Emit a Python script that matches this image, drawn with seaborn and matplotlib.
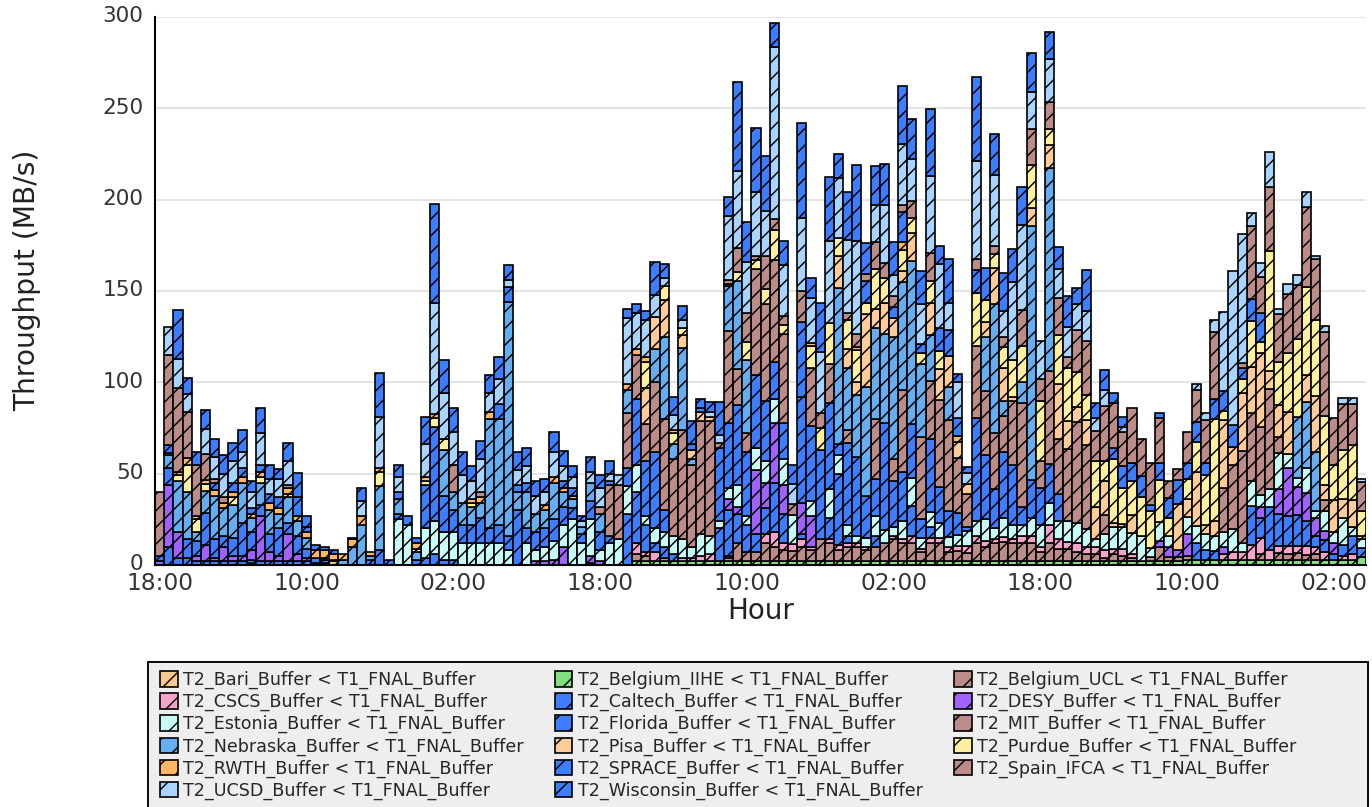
import matplotlib
matplotlib.use("Agg")
import matplotlib.pyplot as plt
from matplotlib.patches import Patch, Rectangle
from matplotlib.ticker import MultipleLocator
from matplotlib.transforms import ScaledTranslation
import seaborn as sns
import pandas as pd

# hourly throughput per link (MB/s), 132 hours
bari = [0, 0, 0, 0, 0, 0, 0, 0, 0, 0, 1, 0,
        0, 0, 0, 0, 0, 0, 0, 2, 0, 0, 0, 0,
        0, 0, 0, 0, 0, 0, 0, 0, 0, 0, 0, 0,
        0, 0, 0, 0, 0, 0, 0, 0, 0, 0, 0, 1,
        0, 0, 0, 0, 0, 0, 0, 0, 0, 0, 0, 0,
        0, 0, 0, 0, 0, 0, 0, 0, 0, 0, 0, 0,
        0, 0, 0, 0, 0, 0, 0, 0, 0, 0, 0, 0,
        0, 0, 0, 0, 0, 0, 0, 0, 0, 0, 0, 0,
        0, 0, 0, 0, 0, 0, 0, 0, 0, 0, 0, 0,
        0, 0, 0, 0, 0, 0, 0, 0, 0, 0, 0, 0,
        0, 0, 0, 0, 0, 0, 0, 0, 0, 0, 0, 0]
belgium_iihe = [0, 0, 0, 0, 0, 0, 0, 0, 0, 0, 0, 0,
                0, 0, 0, 0, 0, 0, 0, 0, 0, 0, 0, 0,
                0, 0, 0, 0, 0, 0, 0, 0, 0, 0, 0, 0,
                0, 0, 0, 0, 0, 0, 0, 0, 0, 0, 0, 0,
                0, 0, 0, 0, 2, 2, 2, 2, 2, 2, 2, 2,
                2, 2, 2, 2, 2, 2, 2, 2, 2, 2, 2, 2,
                2, 2, 2, 2, 2, 2, 2, 2, 2, 2, 2, 2,
                2, 2, 2, 2, 2, 2, 2, 2, 2, 2, 2, 2,
                2, 2, 2, 2, 2, 2, 2, 2, 2, 2, 2, 2,
                2, 2, 2, 2, 3, 3, 3, 3, 3, 3, 3, 3,
                3, 3, 3, 3, 3, 3, 3, 3, 3, 3, 3, 4.3]
belgium_ucl = [0, 0, 0, 0, 0, 0, 0, 0, 0, 0, 0, 0,
               0, 0, 0, 0, 0, 0, 0, 0, 0, 0, 0, 0,
               0, 0, 0, 0, 0, 0, 0, 0, 0, 0, 0, 0,
               0, 0, 0, 0, 0, 0, 0, 0, 0, 0, 0, 0,
               0, 0, 0, 0, 4, 3, 0, 2, 0, 0, 0, 0,
               0, 0, 2, 10, 5, 5, 10, 8, 6, 5.5, 8, 6,
               12, 10, 6, 8, 8, 6, 8, 10, 12, 10, 10, 5,
               10, 10, 5, 5.6, 4.6, 10, 8, 10, 10.6, 10, 10, 10,
               5, 10, 7, 6.6, 5, 4, 4, 2, 4, 3, 2, 0,
               2.2, 8, 2.2, 2.2, 2, 0, 0, 0, 0, 0, 0, 0,
               3, 0, 3.3, 3.2, 3.5, 2.4, 3, 0, 0, 0, 0, 0]
cscs = [0, 0, 0, 0, 0, 0, 0, 0, 0, 0, 0, 0,
        0, 0, 0, 0, 0, 0, 0, 0, 0, 0, 0, 0,
        0, 0, 0, 0, 0, 0, 0, 0, 0, 0, 0, 0,
        0, 0, 0, 0, 0, 0, 0, 0, 0, 0, 0, 0,
        0, 0, 0, 0, 6, 2, 5, 0, 0, 2, 2, 3,
        4, 0, 1, 0, 0, 0, 5, 8, 4, 4, 4, 2,
        0, 2, 3, 2, 2, 2, 0, 0, 2, 2, 4, 2,
        3, 3, 2.6, 3, 4, 4, 3, 2, 3, 2, 4, 4,
        3, 10, 5, 4, 5, 4, 4, 4, 3, 4, 2, 0,
        0, 0, 0, 0, 0, 0, 0, 0, 3, 4, 4, 7.8,
        8.8, 5, 4, 4, 4, 4.9, 4, 4, 0, 2, 3, 0]
caltech = [0, 10, 4, 4, 2, 2, 2, 2, 2, 2, 2, 2,
           2, 2, 2, 2, 2, 1, 1, 0, 0, 0, 0, 0,
           0, 0, 0, 0, 3, 4, 6, 3, 3, 0, 0, 0,
           0, 0, 0, 0, 0, 0, 0, 0, 0, 0, 0, 0,
           0, 0, 0, 28, 28, 15, 5, 6, 4, 0, 0, 0,
           0, 18, 25, 16, 15, 10, 14, 27, 16, 0, 3, 0,
           0, 12, 39, 4, 0, 0, 6, 0, 0, 0, 16.4, 0,
           6, 0, 0, 0, 0, 0, 0, 0, 0, 0, 0, 0,
           0, 0, 0, 0, 0, 0, 0, 0, 0, 0, 0, 0,
           0, 0, 0, 0, 0, 8.8, 5, 4.9, 0, 0, 0, 21.5,
           10.8, 23.5, 17.6, 16.6, 16.6, 13.7, 5.9, 6.8, 3, 5.9, 9.8, 4.9]
desy = [2, 34, 14, 0, 3, 9, 2, 8, 3, 3, 5, 25,
        5, 3, 15, 4, 2, 0, 0, 0, 0, 0, 0, 0,
        0, 0, 0, 0, 0, 0, 0, 0, 0, 0, 0, 0,
        0, 0, 0, 0, 0, 2, 2, 3, 10, 0, 0, 4,
        2, 0, 0, 0, 0, 0, 0, 0, 0, 0, 0, 0,
        0, 0, 6, 4, 0, 35, 14, 33, 16, 0, 17, 17,
        0, 0, 0, 0, 0, 0, 0, 0, 0, 0, 0, 0,
        0, 0, 0, 0, 0, 0, 0, 0, 0, 0, 0, 0,
        0, 0, 0, 0, 0, 0, 0, 0, 0, 0, 0, 0,
        0, 3, 5.9, 4, 11.7, 0, 0, 0, 4, 0, 0, 0,
        5.9, 0, 13.7, 26.4, 15.6, 15.6, 9.8, 4.9, 5.9, 0, 0, 0]
estonia = [0, 0, 0, 0, 0, 0, 0, 0, 0, 0, 0, 0,
           0, 0, 0, 0, 0, 0, 0, 0, 0, 0, 0, 0,
           0, 0, 25, 22, 0, 16, 18, 15, 15, 12, 12, 12,
           12, 12, 8, 0, 12, 6, 8, 10, 12, 25, 12, 20,
           6, 12, 14, 15, 15, 5, 8, 8, 10, 10, 6, 12,
           10, 4, 6, 12, 5, 12, 12, 13, 14, 16, 0, 8,
           0, 15.6, 10, 6, 4, 5, 11, 7, 5, 10, 15, 6,
           8, 8, 6, 6, 8, 8, 12, 6, 10, 8, 6, 9.8,
           12, 11.7, 10, 11.7, 10.8, 9.8, 4, 8.8, 11.7, 11.7, 11.7, 13.7,
           5, 10.8, 5.9, 0, 9.8, 9.8, 8.8, 7.8, 7.8, 12.7, 4.8, 13.7,
           6.8, 10, 19.6, 7.8, 4.9, 13.7, 4, 10.8, 5.9, 14.7, 4.9, 4.9]
florida = [3, 9, 0, 10, 8, 17.6, 10, 6, 10, 18, 10, 6,
           10, 15, 6, 10, 5, 3, 2, 1, 0, 0, 0, 3,
           8, 3, 3, 0, 0, 24, 51.5, 20, 12, 10, 10, 14,
           8, 10, 8, 30, 8, 10, 10, 12, 10, 6, 5, 10,
           10, 4, 0, 10, 36, 30, 42, 12, 0, 0, 0, 0,
           0, 40, 36, 43.5, 35, 40, 33, 20, 20, 0, 58, 41,
           49, 47, 6.4, 45, 43, 22.5, 20, 58.7, 25, 27, 30, 10,
           40, 19.6, 14, 12, 2, 56.7, 35, 21.5, 36, 33, 9.8, 21,
           20, 21.5, 15, 0, 0, 0, 0, 0, 0, 0, 0, 0,
           0, 0, 0, 0, 0, 0, 0, 0, 0, 0, 0, 0,
           0, 0, 0, 0, 0, 0, 0, 0, 0, 0, 0, 0]
mit = [0, 0, 0, 0, 0, 0, 0, 0, 0, 0, 0, 0,
       0, 0, 0, 0, 0, 0, 0, 0, 0, 0, 0, 0,
       0, 0, 0, 0, 0, 0, 0, 0, 0, 0, 0, 0,
       0, 0, 0, 0, 0, 0, 0, 0, 0, 0, 0, 0,
       0, 28, 30, 30, 24, 20, 38, 50, 42, 60, 45, 62,
       63, 3, 50, 20, 10, 58, 53, 55.7, 48.4, 6, 0, 32,
       0, 21.5, 0, 7, 0, 0, 33, 0, 12, 45, 0, 45,
       32, 48, 50, 30, 18, 39, 35, 31, 20, 35, 56.7, 0,
       15, 51, 30, 39, 55.7, 46, 0, 10.8, 0, 0, 0, 0,
       0, 0, 0, 0, 0, 0, 0, 0, 24.4, 35, 50.8, 37,
       37, 54.8, 8.8, 0, 0, 0, 0, 6.2, 0, 0, 0, 0]
nebraska = [0, 7, 28, 26, 5, 12, 24, 15, 18, 22, 8, 12,
            13, 8, 14, 8, 6, 0, 1, 0, 3, 10, 22, 2,
            35, 0, 8, 0, 4, 0, 0, 25, 10, 12, 10, 8,
            60, 58, 128, 10, 20, 10, 10, 20, 8, 5, 4, 10,
            10, 0, 0, 13, 0, 0, 18, 45, 8, 45, 3, 0,
            0, 0, 25, 48, 40, 0, 0, 0, 0, 0, 0, 0,
            0, 0, 85, 34, 34, 60, 50, 49, 67, 58.7, 89, 40,
            25, 0, 18, 0, 0, 0, 30, 70.4, 8, 0, 11.7, 139,
            0, 111, 0, 0, 0, 0, 0, 0, 0, 0, 0, 0,
            0, 0, 0, 0, 0, 0, 0, 0, 0, 0, 0, 0,
            0, 0, 0, 0, 33.2, 36.2, 32.3, 0, 0, 0, 0, 0]
pisa = [0, 0, 0, 0, 0, 0, 0, 0, 0, 0, 0, 0,
        0, 0, 0, 0, 0, 0, 0, 0, 0, 0, 0, 0,
        0, 0, 0, 0, 0, 0, 0, 0, 0, 0, 0, 0,
        0, 0, 0, 0, 0, 0, 0, 0, 0, 0, 0, 0,
        0, 0, 0, 0, 0, 20, 18, 20, 0, 7, 5, 5,
        2, 0, 0, 0, 0, 0, 0, 0, 0, 0, 0, 0,
        0, 0, 17.6, 10, 7, 40, 10, 16.6, 10, 6, 15.6, 0,
        17.6, 16.6, 17, 9, 6, 0, 8, 19.6, 18, 2, 0, 9.8,
        0, 12.7, 30, 15.6, 7.8, 13.7, 17.6, 18.6, 2.4, 2, 9.8, 0,
        0, 0, 0, 25.4, 9.8, 29.3, 5, 8.5, 37, 10, 31.3, 25.4,
        41, 10, 17.6, 22.5, 0, 14.7, 30.3, 8, 17.6, 10.8, 14.7, 2]
purdue = [0, 0, 3, 15, 7, 4, 0, 0, 4, 0, 0, 3,
          0, 0, 2, 0, 0, 0, 0, 0, 0, 0, 0, 0,
          8, 0, 0, 0, 2, 2, 5, 6, 0, 0, 2, 0,
          0, 0, 0, 0, 0, 0, 0, 0, 0, 0, 0, 0,
          0, 0, 0, 0, 0, 14, 0, 8, 6, 4, 0, 0,
          0, 0, 0, 5, 10, 5, 8, 16.5, 5, 0, 0, 12,
          12, 22.5, 10, 16, 17.6, 6, 22, 14, 0, 12, 8, 6,
          11.7, 10, 0, 0, 0, 29, 12, 8, 12, 20, 19.6, 23.5,
          33, 8.8, 27, 29, 19.6, 13.7, 25.4, 11, 35, 19.6, 18.6, 21.5,
          20.5, 22.5, 9.8, 0, 10.8, 16.6, 27.4, 55.7, 5, 0, 7.8, 25.4,
          5.9, 65.5, 23.5, 32.3, 43, 48, 42, 38, 19.6, 26.4, 30.3, 13.7]
rwth = [0, 1.5, 2, 3.5, 2, 2, 3, 3, 3, 3, 2, 3,
        4, 3, 3, 3, 3, 4, 4, 3, 3, 4, 5, 2,
        2, 0, 0, 0, 3, 2, 2, 0, 0, 0, 2, 3,
        4, 0, 0, 0, 0, 0, 3, 3, 2, 2, 0, 0,
        0, 0, 0, 3, 3, 3, 0, 0, 2, 0, 0, 0,
        0, 0, 1, 0, 0, 0, 0, 0, 0, 0, 0, 1.5,
        0, 0, 0, 0, 2, 0, 0, 0, 0, 4, 0, 0,
        0, 0, 0, 3, 0, 0, 0, 0, 0, 0, 0, 0,
        0, 0, 0, 0, 0, 0, 0, 0, 0, 0, 0, 0,
        0, 0, 0, 0, 0, 0, 0, 0, 0, 0, 0, 0,
        0, 0, 0, 0, 0, 0, 0, 0, 0, 0, 0, 0]
sprace = [0, 4, 0, 0, 0, 0, 4, 0, 5, 5, 3, 4,
          5, 6, 0, 10, 3, 3, 0, 0, 0, 0, 0, 0,
          0, 0, 4, 0, 0, 0, 0, 0, 0, 0, 0, 0,
          0, 8, 8, 4, 5, 0, 0, 0, 4, 4, 0, 0,
          0, 2, 0, 0, 0, 0, 0, 0, 0, 0, 3, 2,
          0, 0, 0, 0, 0, 0, 0, 0, 0, 0, 41, 0,
          0, 0, 0, 0, 0, 12, 0, 0, 6, 16.6, 0, 5,
          0, 12.7, 14, 10, 0, 12.7, 0, 0, 0, 0, 0, 0,
          0, 0, 0, 0, 0, 0, 0, 0, 6, 11.7, 9.8, 11.7,
          3, 9.8, 10.8, 12.7, 8.8, 10.8, 6.8, 10.8, 10.8, 11.7, 5.9, 11.7,
          15.6, 0, 0, 0, 0, 0, 0, 0, 0, 0, 0, 0]
spain_ifca = [35, 49.5, 46, 25, 28, 14, 2, 3, 0, 0, 0, 0,
              0, 0, 2, 0, 0, 0, 0, 0, 0, 0, 0, 0,
              0, 0, 0, 0, 0, 0, 0, 0, 15, 0, 0, 3,
              0, 0, 0, 0, 0, 0, 0, 0, 0, 0, 0, 0,
              4, 0, 0, 0, 0, 0, 0, 0, 0, 0, 0, 0,
              0, 0, 2, 13, 16, 2, 18, 6, 5, 0, 17, 0,
              8, 0, 0, 4, 7, 4, 14.7, 8, 6, 4, 9, 0,
              15.6, 0, 0, 0, 0, 6, 0, 4, 5, 0, 19.6, 19.6,
              12, 14.7, 20, 6, 22.5, 29.3, 16.6, 30, 24.4, 18.6, 30, 20,
              23, 24.4, 9.2, 6.5, 17, 17.6, 23.5, 37, 0, 0, 3, 40,
              19.6, 35.2, 26.4, 32.3, 29.3, 44, 33.2, 46, 25.4, 25.4, 22.5, 15.6]
ucsd = [0, 15.5, 16, 10, 0, 14, 12, 13, 12, 9, 9, 17,
        8, 10, 13, 0, 0, 0, 0, 0, 0, 0, 8, 0,
        28, 0, 8, 0, 0, 18, 61, 25, 18, 15, 10, 18,
        10, 14, 4, 8, 9, 10, 7, 14, 8, 6, 3, 6,
        10, 4, 5, 36, 20, 20, 12, 4, 8, 4, 0, 0,
        3, 4, 35, 42, 28, 35, 25, 94.5, 28, 11, 40, 24.5,
        33.6, 45, 33, 40, 51, 0, 20.5, 32, 12, 33, 23.5, 22,
        42, 35, 15, 19.6, 6, 53.8, 0, 39, 14.7, 43, 47, 20.5,
        20.5, 23.5, 16, 16.6, 14.7, 16.6, 6.8, 8.8, 0, 3, 0, 0,
        0, 0, 0, 0, 0, 3, 3.5, 6.3, 43.6, 84.5, 70.4, 7.2,
        8.2, 19.2, 2.5, 5.9, 5.9, 7.8, 1.4, 3.3, 0, 3, 3, 1.6]
wisconsin = [0, 0, 26.6, 8.6, 7, 10.4, 10, 10, 10, 12, 6, 14,
             8, 5.6, 10, 13.6, 6, 0, 2, 2, 0, 1, 7, 0,
             24, 0, 7, 5, 3, 15, 54, 18, 13, 12.6, 8, 10,
             10, 12, 8, 9.6, 10, 7.8, 7, 10.8, 8.6, 6, 3, 8,
             7, 6.7, 0, 5, 5, 5, 18, 8, 10, 8, 13, 5,
             5, 18, 10.5, 49, 22, 35, 30, 13, 13, 10, 52, 11,
             26.6, 35, 13, 26, 41.5, 17, 21, 22, 17.6, 32, 21.5, 18,
             37, 10, 24, 4.3, 3, 46, 17.8, 22.5, 20.5, 18, 20.5, 21,
             0, 14.7, 12, 17, 8.8, 22.5, 8.4, 11, 5.5, 5.3, 0, 0,
             0, 2.5, 0, 0, 0, 0, 0, 0, 0, 0, 0, 0,
             0, 0, 0, 0, 0, 0, 0, 0, 0, 0, 0, 0]

sites = ["T2_Bari_Buffer", "T2_Belgium_IIHE", "T2_Belgium_UCL", "T2_CSCS_Buffer",
         "T2_Caltech_Buffer", "T2_DESY_Buffer", "T2_Estonia_Buffer", "T2_Florida_Buffer",
         "T2_MIT_Buffer", "T2_Nebraska_Buffer", "T2_Pisa_Buffer", "T2_Purdue_Buffer",
         "T2_RWTH_Buffer", "T2_SPRACE_Buffer", "T2_Spain_IFCA", "T2_UCSD_Buffer",
         "T2_Wisconsin_Buffer"]
series = [bari, belgium_iihe, belgium_ucl, cscs, caltech, desy, estonia, florida,
          mit, nebraska, pisa, purdue, rwth, sprace, spain_ifca, ucsd, wisconsin]
colors = ["#f9c88c", "#80e080", "#bc8c88", "#f6a3cb", "#3d7dff", "#9f62ff", "#c8fbf8",
          "#3d7dff", "#bc8c88", "#66aef2", "#ffcc99", "#fff0a0", "#ffb766", "#3d7dff",
          "#bc8c88", "#a8d4ff", "#3d7dff"]
xtick_labels = ["18:00", "10:00", "02:00", "18:00", "10:00", "02:00", "18:00", "10:00", "02:00"]

labels = [s + " < T1_FNAL_Buffer" for s in sites]

rows = []
for lab, vals in zip(labels, series):
    for h, v in enumerate(vals):
        rows.append((h, lab, v))
df = pd.DataFrame(rows, columns=["hour", "link", "rate"])

sns.set_style("white")
plt.rcParams["font.family"] = ["DejaVu Sans"]
plt.rcParams["hatch.linewidth"] = 0.7

W, H = 1372, 807
fig = plt.figure(figsize=(W / 150, H / 150), dpi=150)
ax = fig.add_axes([155 / W, 1 - 565 / H, 1211 / W, 548 / H])

# seaborn puts the first hue level on top of the stack, so reverse
sns.histplot(data=df, x="hour", weights="rate", hue="link", hue_order=labels[::-1],
             multiple="stack", discrete=True, palette=dict(zip(labels, colors)),
             alpha=1, edgecolor="black", linewidth=0.8, hatch="///", legend=False, ax=ax)

for p in ax.patches:
    if p.get_height() <= 0:
        p.set_linewidth(0)
        p.set_hatch(None)

ax.set_xlim(-0.5, 131.5)
ax.set_ylim(0, 300)
ax.set_xticks(range(0, 132, 16))
ax.set_xticklabels(xtick_labels)
ax.set_yticks(range(0, 301, 50))
ax.yaxis.set_minor_locator(MultipleLocator(10))
ax.tick_params(axis="x", length=0, pad=3.5, labelsize=11.2, labelcolor="#333333")
ax.tick_params(axis="y", which="both", direction="in", length=3.5, width=0.9,
               pad=5.5, labelsize=10.4, labelcolor="#333333")
# y labels sit a little above their ticks in the original
for lab in ax.get_yticklabels():
    lab.set_transform(lab.get_transform() + ScaledTranslation(0, 1.2 / 72, fig.dpi_scale_trans))
ax.yaxis.grid(True, color="#e4e4e4", linewidth=1.0)
ax.set_axisbelow(True)
for side in ["top", "right"]:
    ax.spines[side].set_visible(False)
for side in ["left", "bottom"]:
    ax.spines[side].set_color("black")
    ax.spines[side].set_linewidth(1.0)

ax.set_xlabel("Hour", fontsize=13.3, color="#222222")
ax.set_ylabel("Throughput (MB/s)", fontsize=13.5, color="#222222")
ax.xaxis.set_label_coords(0.5, -0.058)
ax.yaxis.set_label_coords(-0.094, 0.52)

# grey legend box spanning the full width, running off the bottom edge
fig.patches.append(Rectangle((148 / W, -0.02), 1220 / W, (807 - 662) / H + 0.02,
                             transform=fig.transFigure, facecolor="#eeeeee",
                             edgecolor="black", linewidth=0.9, zorder=0))

# legend reads row-wise in the original, matplotlib fills column-wise
order = list(range(0, 17, 3)) + list(range(1, 17, 3)) + list(range(2, 17, 3))
handles = [Patch(facecolor=colors[i], edgecolor="black", hatch="//", linewidth=0.8,
                 label=labels[i]) for i in order]
leg = fig.legend(handles=handles, ncol=3, loc="upper left",
                 bbox_to_anchor=(160 / W, 1 - 671 / H), borderaxespad=0, borderpad=0,
                 fontsize=8.4, frameon=False, handlelength=1.0, handleheight=1.0,
                 handletextpad=0.3, labelspacing=0.22, columnspacing=1.8)
leg.set_zorder(2)

fig.savefig("out.png", dpi=150)
